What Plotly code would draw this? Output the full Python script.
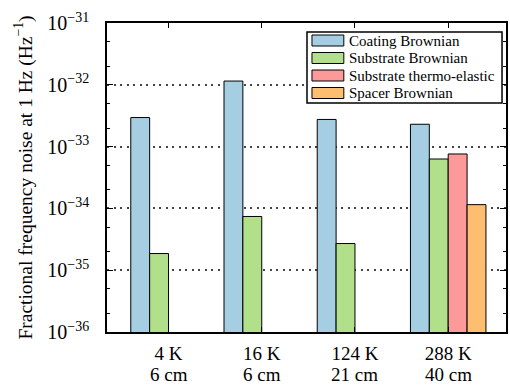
import plotly.graph_objects as go

categories_top = ["4 K", "16 K", "124 K", "288 K"]
categories_bottom = ["6 cm", "6 cm", "21 cm", "40 cm"]
coating_brownian = [2.95e-33, 1.15e-32, 2.75e-33, 2.3e-33]
substrate_brownian = [1.86e-35, 7.4e-35, 2.7e-35, 6.3e-34]
substrate_thermoelastic = [None, None, None, 7.6e-34]
spacer_brownian = [None, None, None, 1.15e-34]
series_names = ["Coating Brownian", "Substrate Brownian", "Substrate thermo-elastic", "Spacer Brownian"]
series_colors = ["#a6cee3", "#b2df8a", "#fb9a99", "#fdbf6f"]
ytick_vals = [1e-36, 1e-35, 1e-34, 1e-33, 1e-32, 1e-31]
ytick_text = ["10<sup>−36</sup>", "10<sup>−35</sup>", "10<sup>−34</sup>", "10<sup>−33</sup>",
              "10<sup>−32</sup>", "10<sup>−31</sup>"]

FONT = "Liberation Serif"
W, H = 510, 387
ML, MR, MT, MB = 107, 2, 23, 55
PW, PH = W - ML - MR, H - MT - MB


def px_x(x):
    return (x - ML) / PW


def px_y(y):
    return (H - MB - y) / PH


fig = go.Figure()
xpos = list(range(len(categories_top)))
for name, vals, col in zip(series_names,
                           [coating_brownian, substrate_brownian, substrate_thermoelastic, spacer_brownian],
                           series_colors):
    fig.add_trace(go.Bar(x=xpos, y=vals, name=name, showlegend=False,
                         marker=dict(color=col, line=dict(color="black", width=1))))

# custom legend (box, wide swatches, labels)
shapes = [dict(type="rect", xref="paper", yref="paper",
               x0=px_x(308), x1=px_x(504), y0=px_y(103), y1=px_y(32),
               fillcolor="white", line=dict(color="black", width=1.5), layer="above")]
annotations = []
for i, (name, col) in enumerate(zip(series_names, series_colors)):
    cy = 40.5 + 17.5 * i
    shapes.append(dict(type="rect", xref="paper", yref="paper",
                       x0=px_x(313), x1=px_x(345), y0=px_y(cy + 5.5), y1=px_y(cy - 5.5),
                       fillcolor=col, line=dict(color="black", width=1), layer="above"))
    annotations.append(dict(text=name, xref="paper", yref="paper", x=px_x(348), y=px_y(cy),
                            xanchor="left", yanchor="middle", showarrow=False,
                            font=dict(family=FONT, size=15, color="black")))
# second line of category labels
for i, lab in enumerate(categories_bottom):
    annotations.append(dict(text=lab, xref="x", yref="paper", x=xpos[i], y=px_y(363),
                            xanchor="center", yanchor="top", showarrow=False, borderpad=0,
                            font=dict(family=FONT, size=19, color="black")))

fig.update_layout(
    width=W, height=H,
    margin=dict(l=ML, r=MR, t=MT, b=MB),
    paper_bgcolor="white", plot_bgcolor="white",
    barmode="group", bargap=0.19, bargroupgap=0,
    font=dict(family=FONT, color="black", size=16),
    showlegend=False,
    shapes=shapes, annotations=annotations,
)
fig.update_xaxes(
    tickmode="array", tickvals=xpos, ticktext=categories_top,
    range=[-0.66, 3.62], showline=True, linecolor="black", linewidth=1.5,
    mirror="allticks", ticks="inside", ticklen=5, tickwidth=1.2, tickcolor="black",
    showgrid=False, tickfont=dict(size=19, family=FONT), zeroline=False,
    ticklabelstandoff=3,
)
fig.update_yaxes(
    type="log", range=[-36, -31], tickmode="array", tickvals=ytick_vals, ticktext=ytick_text,
    showline=True, linecolor="black", linewidth=1.5, mirror="allticks",
    ticks="inside", ticklen=6, tickwidth=1.2, tickcolor="black",
    minor=dict(ticks="inside", ticklen=3, tickwidth=1, tickcolor="black", showgrid=False),
    showgrid=True, gridcolor="#444444", gridwidth=1.5, griddash="2px,4.5px",
    tickfont=dict(size=20, family=FONT), ticklabelstandoff=12,
    title=dict(text="Fractional frequency noise at 1 Hz (Hz<sup>−1</sup>)",
               font=dict(size=19.5, family=FONT), standoff=10),
    zeroline=False,
)
fig.write_html("out.html", config={"displayModeBar": False},
               post_script="document.body.style.margin='0';document.body.style.overflow='hidden';")
